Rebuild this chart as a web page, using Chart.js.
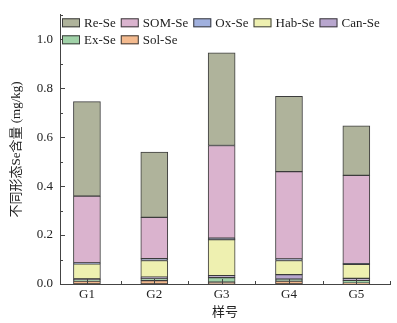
<!DOCTYPE html>
<html>
<head>
<meta charset="utf-8">
<script src="https://cdn.jsdelivr.net/npm/chart.js@4.4.0/dist/chart.umd.min.js"></script>
<style>
  html, body { margin: 0; padding: 0; background: #fff; }
  #wrap { width: 397px; height: 323px; }
</style>
</head>
<body>
<div id="wrap"><canvas id="myChart" width="397" height="323"></canvas></div>
<script>
// sample names and Se fractions (mg/kg), bottom of stack first
const samples = ["G1", "G2", "G3", "G4", "G5"];
const solSe = [0.012, 0.014, 0.007, 0.012, 0.003];
const exSe = [0.006, 0.008, 0.019, 0.008, 0.012];
const canSe = [0.003, 0.006, 0.008, 0.018, 0.008];
const habSe = [0.061, 0.068, 0.147, 0.058, 0.057];
const oxSe = [0.004, 0.008, 0.006, 0.006, 0.003];
const somSe = [0.273, 0.168, 0.379, 0.357, 0.361];
const reSe = [0.386, 0.267, 0.379, 0.308, 0.202];
const yTicks = [0, 0.2, 0.4, 0.6, 0.8, 1.0];

const serif = "'Liberation Serif', 'Times New Roman', 'Noto Sans CJK SC', serif";

function series(label, values, color) {
  return {
    label: label,
    data: values.map((v, i) => ({ x: i + 1, y: v })),
    backgroundColor: color,
    borderColor: "#3c3c3c",
    borderWidth: 1,
    borderSkipped: false,
    barThickness: 27,
    grouped: false,
  };
}

// small ticks pointing into the plot, like the original figure
const inwardTicks = {
  id: "inwardTicks",
  afterDatasetsDraw(chart) {
    const { ctx, chartArea } = chart;
    const x = chart.scales.x;
    const y = chart.scales.y;
    ctx.save();
    ctx.strokeStyle = "#444";
    ctx.lineWidth = 1;
    ctx.beginPath();
    for (let i = 0; i <= 11; i++) {
      const py = Math.round(y.getPixelForValue(i / 10)) + 0.5;
      const len = i % 2 === 0 ? 5 : 3;
      ctx.moveTo(chartArea.left, py);
      ctx.lineTo(chartArea.left + len, py);
    }
    for (let i = 2; i <= 11; i++) {
      const px = Math.round(x.getPixelForValue(i / 2)) + 0.5;
      const len = i % 2 === 0 ? 5 : 3;
      ctx.moveTo(px, chartArea.bottom);
      ctx.lineTo(px, chartArea.bottom - len);
    }
    ctx.stroke();
    ctx.restore();
  },
};

// legend drawn inside the plot, two rows, Re-Se first
const innerLegend = {
  id: "innerLegend",
  afterDraw(chart) {
    const { ctx, chartArea } = chart;
    const items = chart.data.datasets.slice().reverse();
    ctx.save();
    ctx.font = "13px " + serif;
    ctx.textBaseline = "middle";
    let px = chartArea.left + 2;
    let py = chartArea.top + 8;
    items.forEach((ds) => {
      const w = 22 + ctx.measureText(ds.label).width;
      if (px + w > chartArea.right) {
        px = chartArea.left + 2;
        py += 17;
      }
      ctx.fillStyle = ds.backgroundColor;
      ctx.fillRect(px, py - 4.5, 18, 9);
      ctx.strokeStyle = ds.borderColor;
      ctx.lineWidth = 1;
      ctx.strokeRect(px + 0.5, py - 4, 17, 8);
      ctx.fillStyle = "#222";
      ctx.fillText(ds.label, px + 22, py + 0.5);
      px += w + 5;
    });
    ctx.restore();
  },
};

const data = {
  datasets: [
    series("Sol-Se", solSe, "#f4ba8e"),
    series("Ex-Se", exSe, "#a0d2a8"),
    series("Can-Se", canSe, "#b8a6ce"),
    series("Hab-Se", habSe, "#eef0b0"),
    series("Ox-Se", oxSe, "#a0b0de"),
    series("SOM-Se", somSe, "#dab3ce"),
    series("Re-Se", reSe, "#afb39b"),
  ],
};

const config = {
  type: "bar",
  data: data,
  options: {
    responsive: false,
    animation: false,
    layout: {
      padding: { top: 13, right: 7, left: 0, bottom: 0 },
    },
    plugins: {
      legend: { display: false },
      tooltip: { enabled: false },
    },
    scales: {
      x: {
        type: "linear",
        offset: false,
        min: 0.6,
        max: 5.5,
        grid: { display: false, drawTicks: false },
        border: { display: true, color: "#444", width: 1 },
        afterBuildTicks: (scale) => {
          scale.ticks = samples.map((s, i) => ({ value: i + 1 }));
        },
        afterFit: (scale) => {
          scale.height = 39;
        },
        ticks: {
          padding: 3,
          color: "#222",
          font: { family: serif, size: 13 },
          callback: (v) => samples[v - 1],
        },
        title: {
          display: true,
          text: "样号",
          color: "#222",
          padding: { top: 0, bottom: 3 },
          font: { family: serif, size: 13 },
        },
      },
      y: {
        stacked: true,
        min: 0,
        max: 1.1,
        grid: { display: false, drawTicks: false },
        border: { display: true, color: "#444", width: 1 },
        afterBuildTicks: (scale) => {
          scale.ticks = yTicks.map((v) => ({ value: v }));
        },
        afterFit: (scale) => {
          scale.width = 60;
        },
        ticks: {
          padding: 7,
          color: "#222",
          font: { family: serif, size: 13 },
          callback: (v) => v.toFixed(1),
        },
        title: {
          display: true,
          text: "不同形态Se含量 (mg/kg)",
          color: "#222",
          padding: { top: 9, bottom: 0 },
          font: { family: serif, size: 13 },
        },
      },
    },
  },
  plugins: [inwardTicks, innerLegend],
};

const ctx = document.getElementById("myChart").getContext("2d");
const myChart = new Chart(ctx, config);
</script>
</body>
</html>
